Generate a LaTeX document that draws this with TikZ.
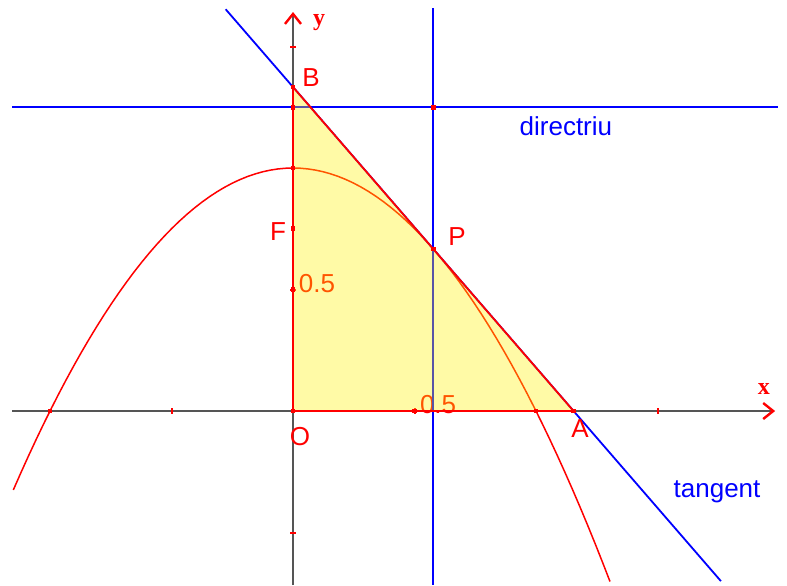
\documentclass[tikz,border=0pt]{standalone}
\usepackage{fontspec}
\setmainfont{Liberation Sans}
\newfontfamily\axfont{Liberation Serif}
\usetikzlibrary{arrows.meta,calc}
\definecolor{axgray}{RGB}{85,85,85}
\definecolor{ptred}{RGB}{255,0,0}
\definecolor{lnblue}{RGB}{0,0,255}

\begin{document}
\begin{tikzpicture}[x=121.5pt,y=121.5pt,font=\fontsize{13}{15}\selectfont,
  axis/.style={axgray,line width=1pt,-{Straight Barb[ptred,length=5pt,width=8pt,line width=1.2pt]}},
  tick/.style={ptred,line width=1pt},
  ln/.style={lnblue,line width=0.9pt},
  edge/.style={ptred,line width=0.9pt},
  lbl/.style={text=ptred,inner sep=0pt},
  bl/.style={text=lnblue,inner sep=0pt},
  axl/.style={text=ptred,inner sep=0pt,font=\axfont\bfseries\fontsize{12}{14}\selectfont}]
\useasboundingbox (-1.2058,-0.7160) rectangle (2.0329,1.6914);
\coordinate (O) at (0,0);
\coordinate (A) at (1.1547,0);
\coordinate (B) at (0,1.3333);
\coordinate (P) at (0.57735,0.66667);
\coordinate (F) at (0,0.75);
\coordinate (V) at (0,1);
\coordinate (D) at (0,1.25);
\coordinate (Q) at (0.57735,1.25);
\coordinate (R) at (1,0);
\coordinate (L) at (-1,0);
\coordinate (H) at (0,0.5);
\coordinate (K) at (0.5,0);
\coordinate (xs) at (-1.156,0);
\coordinate (xe) at (1.984,0);
\coordinate (ys) at (0,-0.716);
\coordinate (ye) at (0,1.642);
\draw[axis] (xs) -- (xe);
\draw[axis] (ys) -- (ye);
\foreach \t in {-0.5,0.5,1.5}{
  \draw[tick] (\t,-0.012) -- (\t,0.012);
  \draw[tick] (-0.012,\t) -- (0.012,\t);}
\node[lbl] (h5) at (0.099,0.523) {0.5};
\node[lbl] (k5) at (0.597,0.025) {0.5};
\draw[ptred,line width=0.75pt,domain=-1.151:1.305,samples=80] plot (\x,{1-\x*\x});
\draw[ln] (Q |- 0,1.658) -- (Q |- ys);
\draw[ln] (-1.156,1.25) -- (1.996,1.25);
\draw[ln] ($(B)!-0.24!(A)$) -- ($(B)!1.525!(A)$);
\fill[yellow,opacity=0.35] (O) -- (A) -- (B) -- cycle;
\draw[edge] (O) -- (A) -- (B) -- cycle;
\foreach \p in {O,A,B,P,F,V,D,Q,R,L,H,K}
  \fill[ptred] ($(\p)+(-1.2pt,-1.2pt)$) rectangle ($(\p)+(1.2pt,1.2pt)$);
\node[axl] (ylbl) at (0.107,1.597) {y};
\node[axl] (xlbl) at (1.938,0.091) {x};
\node[lbl] (Blbl) at (0.074,1.374) {B};
\node[lbl] (Flbl) at (-0.062,0.737) {F};
\node[lbl] (Plbl) at (0.675,0.717) {P};
\node[lbl] (Olbl) at (0.029,-0.107) {O};
\node[lbl] (Albl) at (1.181,-0.074) {A};
\node[bl] (dir) at (1.123,1.173) {directriu};
\node[bl] (tan) at (1.745,-0.333) {tangent};
\end{tikzpicture}
\end{document}
